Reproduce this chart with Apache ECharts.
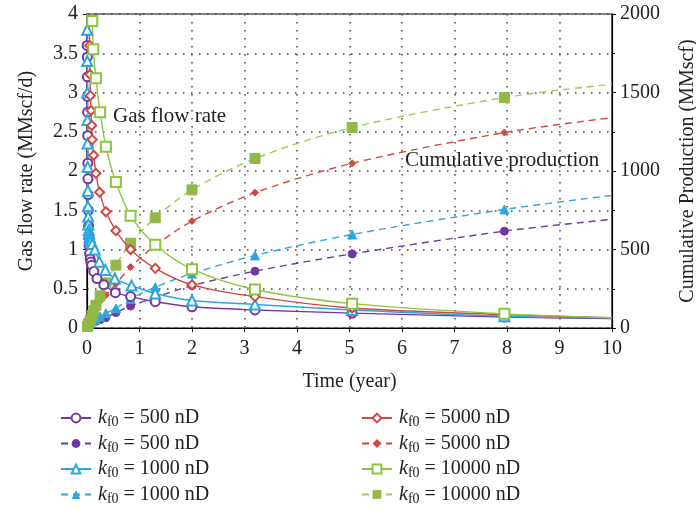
<!DOCTYPE html>
<html>
<head>
<meta charset="utf-8">
<script src="https://cdn.jsdelivr.net/npm/echarts@6.0.0/dist/echarts.min.js"></script>
<style>
  html, body { margin: 0; padding: 0; background: #fff; }
  #chart { width: 696px; height: 520px; }
</style>
</head>
<body>
<div id="chart"></div>
<script>
// ---------------------------------------------
// data
// gas flow rate (MMscf/d) vs time (year)
// ---------------------------------------------
const qT500 = [0.001, 0.003, 0.005, 0.007, 0.009, 0.011, 0.013, 0.015, 0.018, 0.021, 0.025, 0.03, 0.035, 0.04, 0.05, 0.06, 0.075, 0.09, 0.13, 0.19, 0.32, 0.54, 0.83, 1.3, 2.0, 3.2, 5.05, 7.95, 10];
const qV500 = [4.6, 3.6, 3.45, 3.2, 2.95, 2.75, 2.45, 2.1, 1.9, 1.7, 1.5, 1.3, 1.15, 1.05, 0.95, 0.88, 0.84, 0.8, 0.72, 0.63, 0.55, 0.45, 0.40, 0.335, 0.27, 0.23, 0.19, 0.14, 0.12];

const qT1000 = [0.001, 0.003, 0.005, 0.007, 0.009, 0.011, 0.013, 0.016, 0.019, 0.023, 0.028, 0.034, 0.04, 0.05, 0.06, 0.075, 0.1, 0.15, 0.235, 0.35, 0.53, 0.85, 1.3, 2.0, 3.2, 5.05, 7.95, 10];
const qV1000 = [4.6, 3.8, 3.4, 3.0, 2.65, 2.35, 2.05, 1.75, 1.55, 1.42, 1.32, 1.25, 1.2, 1.16, 1.13, 1.1, 1.07, 1.0, 0.845, 0.74, 0.63, 0.54, 0.44, 0.35, 0.30, 0.23, 0.15, 0.13];

const qT5000 = [0.03, 0.05, 0.057, 0.064, 0.076, 0.089, 0.1, 0.127, 0.17, 0.24, 0.36, 0.55, 0.83, 1.3, 2.0, 3.2, 5.05, 7.95, 10];
const qV5000 = [4.6, 3.6, 3.23, 2.96, 2.77, 2.58, 2.4, 2.2, 1.97, 1.73, 1.48, 1.24, 1.0, 0.76, 0.55, 0.40, 0.255, 0.17, 0.13];

const qT10000 = [0.07, 0.1, 0.12, 0.17, 0.25, 0.36, 0.55, 0.83, 1.3, 2.0, 3.2, 5.05, 7.95, 10];
const qV10000 = [4.6, 3.91, 3.55, 3.18, 2.75, 2.31, 1.86, 1.43, 1.06, 0.75, 0.49, 0.31, 0.18, 0.13];

// cumulative production (MMscf) vs time (year)
const gT500 = [0, 0.01, 0.03, 0.06, 0.1, 0.17, 0.25, 0.36, 0.55, 0.83, 1.3, 2.0, 3.2, 5.05, 7.95, 10];
const gV500 = [0, 6, 14, 24, 33, 43, 53, 66, 98, 140, 195, 270, 362, 472, 617, 692];

const gT1000 = [0, 0.01, 0.03, 0.06, 0.1, 0.17, 0.25, 0.36, 0.55, 0.83, 1.3, 2.0, 3.2, 5.05, 7.95, 10];
const gV1000 = [0, 7, 18, 32, 45, 58, 72, 94, 125, 185, 260, 347, 462, 596, 755, 845];

const gT5000 = [0, 0.01, 0.03, 0.06, 0.1, 0.17, 0.24, 0.36, 0.55, 0.83, 1.3, 2.0, 3.2, 5.05, 7.95, 10];
const gV5000 = [0, 15, 40, 70, 105, 140, 170, 210, 280, 388, 525, 681, 862, 1049, 1245, 1340];

const gT10000 = [0, 0.01, 0.03, 0.06, 0.1, 0.13, 0.17, 0.25, 0.36, 0.55, 0.83, 1.3, 2.0, 3.2, 5.05, 7.95, 10];
const gV10000 = [0, 10, 28, 50, 80, 110, 145, 205, 287, 400, 540, 702, 880, 1080, 1277, 1468, 1553];

// axis ticks
const xTicks = [0, 10, 1];
const qTicks = [0, 4, 0.5];
const gTicks = [0, 2000, 500];

// legend labels
const legendLeft = ["q500", "g500", "q1000", "g1000"];
const legendRight = ["q5000", "g5000", "q10000", "g10000"];
const perm = {
    q500: "500", g500: "500",
    q1000: "1000", g1000: "1000",
    q5000: "5000", g5000: "5000",
    q10000: "10000", g10000: "10000"
};

// ---------------------------------------------
// styles
// ---------------------------------------------
const FONT = "Liberation Serif";
const PURPLE = "#7436a2";
const BLUE = "#2aa7de";
const RED = "#d4473f";
const GREEN = "#8cc63f";
const GREEN_F = "#93b84a";
const DOTS = { color: "#444", type: [1.5, 6.5], width: 1.5 };

function toData(times, values, maxV) {
    return times.map((t, i) => {
        const item = { value: [t, values[i]] };
        if (t === 0 || t === 10 || values[i] > maxV) {
            item.symbol = "none";
        }
        return item;
    });
}

function rateSeries(name, times, values, color, symbol, size) {
    return {
        name: name,
        type: "line",
        yAxisIndex: 0,
        data: toData(times, values, 4),
        smooth: 0.3,
        symbol: symbol,
        symbolSize: size,
        showAllSymbol: true,
        clip: true,
        lineStyle: { color: color, width: 1.4 },
        itemStyle: { color: color, borderColor: color, borderWidth: 1.3 },
        z: 3
    };
}

function cumSeries(name, times, values, color, lineColor, symbol, size) {
    return {
        name: name,
        type: "line",
        yAxisIndex: 1,
        data: toData(times, values, 2000),
        smooth: 0.3,
        symbol: symbol,
        symbolSize: size,
        showAllSymbol: true,
        clip: true,
        lineStyle: { color: lineColor, width: 1.4, type: [7, 5] },
        itemStyle: { color: color, borderColor: color },
        z: 2
    };
}

const chart = echarts.init(document.getElementById("chart"));

const legendBase = {
    orient: "vertical",
    itemGap: 4,
    itemWidth: 30,
    itemHeight: 11,
    formatter: name => "{k|k}{s|f0}{t| = " + perm[name] + " nD}",
    textStyle: {
        fontFamily: FONT,
        color: "#222",
        rich: {
            k: { fontFamily: FONT, fontSize: 20, fontStyle: "italic", color: "#222", padding: [0, 0, 0, 2] },
            s: { fontFamily: FONT, fontSize: 14, color: "#222", padding: [9, 0, 0, 0] },
            t: { fontFamily: FONT, fontSize: 20, color: "#222" }
        }
    }
};

chart.setOption({
    animation: false,
    backgroundColor: "#fff",
    grid: {
        left: 87,
        right: 84,
        top: 14,
        bottom: 192,
        outerBoundsMode: "none",
        show: true,
        borderColor: "#000",
        borderWidth: 1.2,
        backgroundColor: "transparent"
    },
    legend: [
        Object.assign({ left: 55, top: 403, data: legendLeft }, legendBase),
        Object.assign({ left: 356, top: 403, data: legendRight }, legendBase)
    ],
    xAxis: {
        type: "value",
        min: xTicks[0],
        max: xTicks[1],
        interval: xTicks[2],
        name: "Time (year)",
        nameLocation: "middle",
        nameGap: 44,
        nameTextStyle: { fontFamily: FONT, fontSize: 20, color: "#222" },
        axisLine: { lineStyle: { color: "#000", width: 1.2 } },
        axisTick: { show: true, length: 4, lineStyle: { color: "#000" } },
        axisLabel: { fontFamily: FONT, fontSize: 20, color: "#222", margin: 11 },
        splitLine: { show: true, lineStyle: DOTS }
    },
    yAxis: [{
        type: "value",
        position: "left",
        min: qTicks[0],
        max: qTicks[1],
        interval: qTicks[2],
        name: "Gas flow rate (MMscf/d)",
        nameLocation: "middle",
        nameRotate: 90,
        nameGap: 50,
        nameTextStyle: { fontFamily: FONT, fontSize: 20, color: "#222" },
        axisLine: { show: true, lineStyle: { color: "#000", width: 1.2 } },
        axisTick: { show: true, length: 4, lineStyle: { color: "#000" } },
        axisLabel: { fontFamily: FONT, fontSize: 20, color: "#222", margin: 9 },
        splitLine: { show: true, lineStyle: DOTS }
    }, {
        type: "value",
        position: "right",
        min: gTicks[0],
        max: gTicks[1],
        interval: gTicks[2],
        name: "Cumulative Production (MMscf)",
        nameLocation: "middle",
        nameRotate: 90,
        nameGap: 66,
        nameTextStyle: { fontFamily: FONT, fontSize: 20, color: "#222" },
        axisLine: { show: true, lineStyle: { color: "#000", width: 1.2 } },
        axisTick: { show: true, length: 4, lineStyle: { color: "#000" } },
        minorTick: { show: true, splitNumber: 2, length: 3, lineStyle: { color: "#000" } },
        axisLabel: {
            fontFamily: FONT, fontSize: 20, color: "#222", margin: 8,
            formatter: v => String(v)
        },
        splitLine: { show: false }
    }],
    graphic: [{
        type: "text",
        left: 113,
        top: 106,
        style: { text: "Gas flow rate", fontFamily: FONT, fontSize: 21, fill: "#222" }
    }, {
        type: "text",
        left: 405,
        top: 150,
        style: { text: "Cumulative production", fontFamily: FONT, fontSize: 21, fill: "#222" }
    }],
    series: [
        rateSeries("q500", qT500, qV500, PURPLE, "emptyCircle", 9),
        cumSeries("g500", gT500, gV500, PURPLE, PURPLE, "circle", 8),
        rateSeries("q1000", qT1000, qV1000, BLUE, "emptyTriangle", 10),
        cumSeries("g1000", gT1000, gV1000, BLUE, BLUE, "triangle", 9),
        rateSeries("q5000", qT5000, qV5000, RED, "emptyDiamond", 9),
        cumSeries("g5000", gT5000, gV5000, RED, RED, "diamond", 7),
        rateSeries("q10000", qT10000, qV10000, GREEN, "emptyRect", 10),
        cumSeries("g10000", gT10000, gV10000, GREEN_F, "#9dcc55", "rect", 10)
    ]
});

window.addEventListener("resize", () => chart.resize());
</script>
</body>
</html>
